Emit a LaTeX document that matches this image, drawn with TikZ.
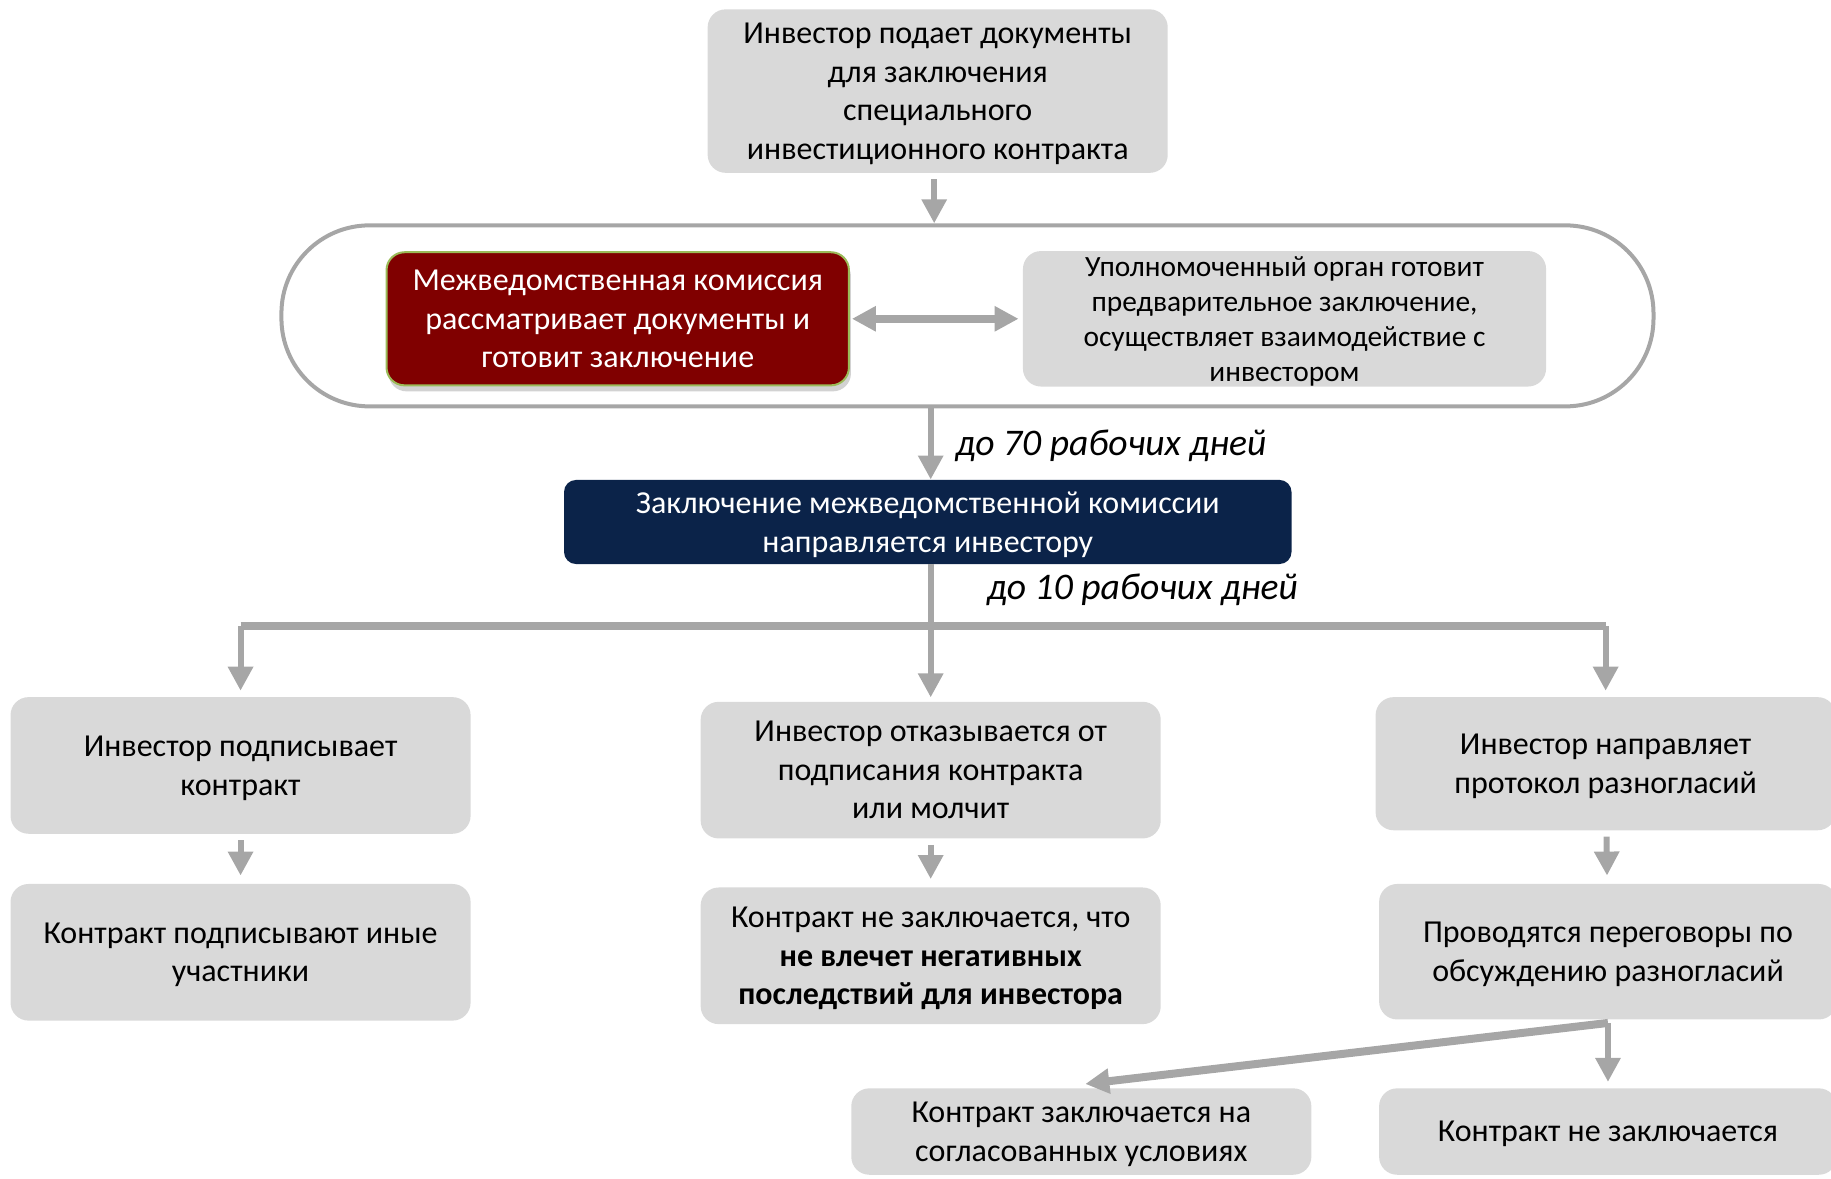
\documentclass[tikz,border=0pt]{standalone}
\usepackage{fontspec}
\setmainfont{Carlito}
\usetikzlibrary{arrows.meta,shadows}
\definecolor{boxgray}{HTML}{D9D9D9}
\definecolor{arrowgray}{HTML}{A6A6A6}
\definecolor{mvkred}{HTML}{800000}
\definecolor{mvkrim}{HTML}{9BBB59}
\definecolor{navyblue}{HTML}{0B2349}
\newcommand\dpx{0.5839pt}

\begin{document}
\begin{tikzpicture}[x=\dpx, y=-\dpx,
	stage/.style={fill=boxgray, rounded corners=9pt, align=center, inner sep=0pt,
		minimum width=394*\dpx, minimum height=117*\dpx, font=\fontsize{16}{19.3}\selectfont,
		text depth=-6pt},
	flow/.style={draw=arrowgray, line width=3pt, -{Triangle[width=12pt,length=12pt]}},
	wideflow/.style={flow, line width=4pt},
	term/.style={font=\fontsize{18.8}{22}\selectfont\itshape, anchor=west, inner sep=0pt}]
	\useasboundingbox (0,0) rectangle (1568,1008.8);

	\node[stage, minimum height=140*\dpx] (apply) at (803,78)
		{Инвестор подает документы\\для заключения\\специального\\инвестиционного контракта};

	\node[draw=arrowgray, line width=2pt, rounded corners=44pt, fill=white,
		minimum width=1175*\dpx, minimum height=155*\dpx] (panel) at (828.5,270.5) {};

	\node[stage, fill=mvkred, draw=mvkrim, line width=1pt, text=white,
		minimum width=396*\dpx, minimum height=114*\dpx,
		drop shadow={shadow xshift=1pt, shadow yshift=-3pt, opacity=0.35}] (mvk) at (529,273)
		{Межведомственная комиссия\\рассматривает документы и\\готовит заключение};
	\node[stage, minimum width=448*\dpx, minimum height=116*\dpx,
		font=\fontsize{14.7}{17.5}\selectfont] (organ) at (1100,273)
		{Уполномоченный орган готовит\\предварительное заключение,\\осуществляет взаимодействие с\\инвестором};

	\node[stage, fill=navyblue, text=white, rounded corners=6pt,
		minimum width=623*\dpx, minimum height=72*\dpx] (result) at (794.5,447)
		{Заключение межведомственной комиссии\\направляется инвестору};

	\node[stage] (sign) at (206,655.5) {Инвестор подписывает\\контракт};
	\node[stage] (refuse) at (797,659.5) {Инвестор отказывается от\\подписания контракта\\или молчит};
	\node[stage, minimum height=114*\dpx] (protocol) at (1375,654) {Инвестор направляет\\протокол разногласий};

	\node[stage] (others) at (206,815.5) {Контракт подписывают иные\\участники};
	\node[stage] (nodeal) at (797,818.5)
		{Контракт не заключается, что\\\textbf{не влечет негативных}\\\textbf{последствий для инвестора}};
	\node[stage, minimum width=392*\dpx, minimum height=116*\dpx] (talks) at (1377,815)
		{Проводятся переговоры по\\обсуждению разногласий};

	\node[stage, minimum height=74*\dpx] (agreed) at (926,969)
		{Контракт заключается на\\согласованных условиях};
	\node[stage, minimum width=392*\dpx, minimum height=74*\dpx] (rejected) at (1377,969)
		{Контракт не заключается};

	\coordinate (fork) at (797,536);

	\draw[flow, shorten <=3pt] (apply.south -| 800,0) -- (panel.north -| 800,0);
	\draw[wideflow, {Triangle[width=12pt,length=12pt]}-{Triangle[width=12pt,length=12pt]},
		shorten <=1pt, shorten >=2pt] (mvk) -- (organ);
	\draw[flow] (panel.south -| fork) -- (result.north -| fork);
	\node[term] (term70) at (818,382) {до 70 рабочих дней};

	\draw[draw=arrowgray, line width=4pt] (sign.north |- fork) -- (protocol.north |- fork);
	\draw[flow, shorten >=2pt] (result.south -| fork) -- (refuse.north);
	\node[term] (term10) at (845,505) {до 10 рабочих дней};
	\draw[flow, shorten >=3pt] (sign.north |- fork) -- (sign.north);
	\draw[flow, shorten >=3pt] (protocol.north |- fork) -- (protocol.north);

	\draw[flow, shorten <=3pt, shorten >=4pt] (sign) -- (others);
	\draw[flow, shorten <=3pt, shorten >=4pt] (refuse) -- (nodeal);
	\draw[flow, shorten <=3pt, shorten >=4pt] (protocol) -- (talks);

	\coordinate (split) at (1377,876);
	\draw[wideflow] (split) -- ([xshift=2pt, yshift=2pt]agreed.north);
	\draw[flow, shorten >=3pt] (split) -- (rejected.north);
\end{tikzpicture}
\end{document}
